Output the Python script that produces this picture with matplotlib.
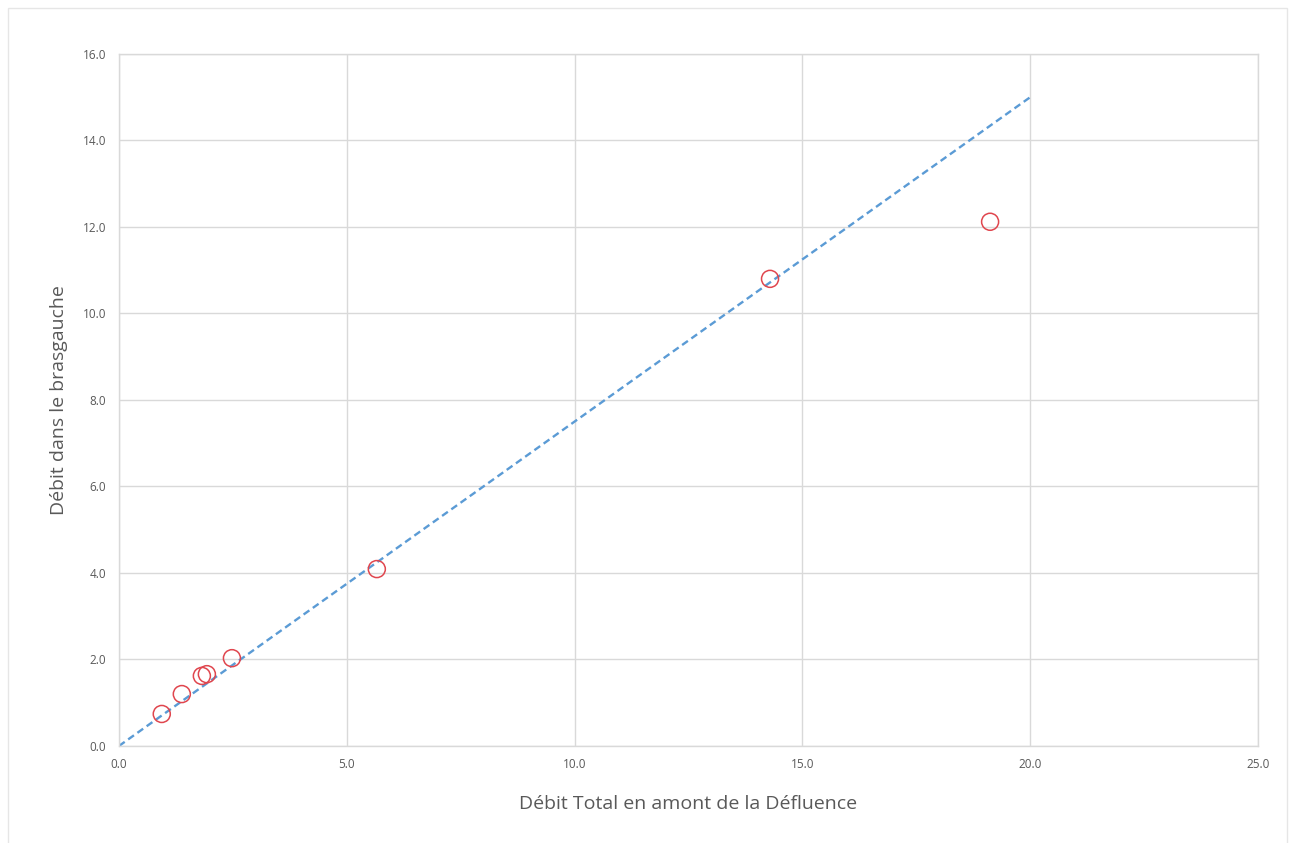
import matplotlib
matplotlib.use("Agg")
import matplotlib.pyplot as plt
from matplotlib.patches import Rectangle
from matplotlib.ticker import MultipleLocator, FormatStrFormatter

debit_total = [0.94, 1.38, 1.82, 1.93, 2.48, 5.66, 14.29, 19.12]
debit_bras_gauche = [0.74, 1.20, 1.62, 1.66, 2.03, 4.09, 10.80, 12.12]

# Reference line
line_x = [0.0, 20.0]
line_y = [0.0, 15.0]

plt.rcParams["font.family"] = ["Open Sans", "DejaVu Sans"]

fig = plt.figure(figsize=(12.9, 8.43), dpi=100)
ax = fig.add_axes([0.0922, 0.1151, 0.8830, 0.8209])

# light frame around the whole chart
fig.patches.append(
    Rectangle((8 / 1290, -0.01), 1279 / 1290, 1.0 - 8 / 843 + 0.01,
              transform=fig.transFigure, fill=False,
              edgecolor="#E6E6E6", linewidth=1.0, zorder=0)
)

ax.plot(line_x, line_y, linestyle=(0, (3, 1.8)), color="#5B9BD5",
        linewidth=1.7, zorder=2)
ax.scatter(debit_total, debit_bras_gauche, s=150, facecolors="none",
           edgecolors="#E0464E", linewidths=1.1, zorder=3)

ax.set_xlim(0, 25)
ax.set_ylim(0, 16)
ax.xaxis.set_major_locator(MultipleLocator(5))
ax.yaxis.set_major_locator(MultipleLocator(2))
ax.xaxis.set_major_formatter(FormatStrFormatter("%.1f"))
ax.yaxis.set_major_formatter(FormatStrFormatter("%.1f"))

ax.grid(True, color="#D9D9D9", linewidth=1.0)
ax.set_axisbelow(True)
for spine in ax.spines.values():
    spine.set_color("#D9D9D9")
    spine.set_linewidth(1.0)
ax.tick_params(length=0, labelsize=8.5, labelcolor="#595959", pad=9)

ax.set_xlabel("Débit Total en amont de la Défluence", fontsize=14,
              color="#595959", labelpad=17)
ax.set_ylabel("Débit dans le brasgauche", fontsize=14,
              color="#595959", labelpad=11)

fig.savefig("out.png", dpi=100)
